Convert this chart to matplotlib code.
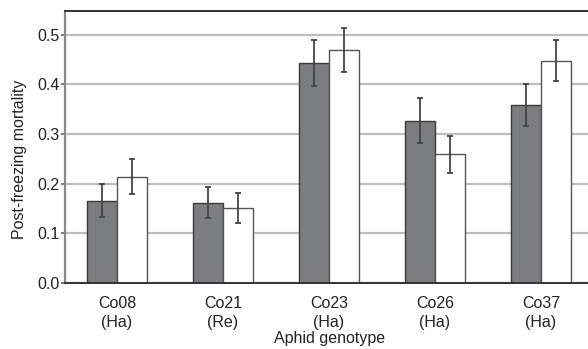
import matplotlib
matplotlib.use("Agg")
import matplotlib.pyplot as plt
import numpy as np

plt.rcParams['font.family'] = ['Liberation Sans', 'DejaVu Sans']

categories = ["Co08\n(Ha)", "Co21\n(Re)", "Co23\n(Ha)", "Co26\n(Ha)", "Co37\n(Ha)"]
dark_vals = [0.166, 0.162, 0.443, 0.327, 0.359]
dark_err = [0.034, 0.031, 0.046, 0.045, 0.042]
white_vals = [0.214, 0.151, 0.470, 0.259, 0.448]
white_err = [0.035, 0.030, 0.044, 0.038, 0.042]
yticks = [0.0, 0.1, 0.2, 0.3, 0.4, 0.5]

W, H = 588, 349
fig = plt.figure(figsize=(W/100, H/100), dpi=100)
ax = fig.add_axes([65/W, 1 - 283/H, (593-65)/W, (283-11)/H])

x = np.arange(len(categories))
bw = 0.285
ax.set_axisbelow(True)
ax.yaxis.grid(True, color='#bdbdbd', linewidth=1.6)
ax.bar(x - bw/2, dark_vals, bw, color='#7c7d80', edgecolor='#3a3a3a', linewidth=1.0, zorder=2)
ax.bar(x + bw/2, white_vals, bw, color='white', edgecolor='#555555', linewidth=1.0, zorder=2)
ax.errorbar(x - bw/2, dark_vals, yerr=dark_err, fmt='none', ecolor='#444444',
            elinewidth=1.3, capsize=2.5, capthick=1.3, zorder=3)
ax.errorbar(x + bw/2, white_vals, yerr=white_err, fmt='none', ecolor='#444444',
            elinewidth=1.3, capsize=2.5, capthick=1.3, zorder=3)

ax.set_xlim(-0.49, 4.49)
ax.set_ylim(0, 0.548)
ax.set_yticks(yticks)
ax.set_yticklabels([f"{v:.1f}" for v in yticks], fontsize=11.5, color='#222222')
ax.set_xticks(x)
ax.set_xticklabels(categories, fontsize=11.5, color='#222222', linespacing=1.35)
ax.tick_params(axis='x', length=0, pad=9)
ax.tick_params(axis='y', length=3, width=1.2, color='#666666', pad=1)

ax.spines['top'].set_color('#333333')
ax.spines['top'].set_linewidth(1.4)
ax.spines['bottom'].set_color('#333333')
ax.spines['bottom'].set_linewidth(1.4)
ax.spines['left'].set_color('#888888')
ax.spines['left'].set_linewidth(1.6)
ax.spines['right'].set_visible(False)

ax.set_ylabel("Post-freezing mortality", fontsize=11.5, color='#222222')
ax.yaxis.set_label_coords(-0.072, 0.455)
ax.set_xlabel("Aphid genotype", fontsize=11.5, color='#222222')
ax.xaxis.set_label_coords(0.502, -0.175)
ax.xaxis.label.set_verticalalignment('top')

fig.savefig("out.png", dpi=100)
